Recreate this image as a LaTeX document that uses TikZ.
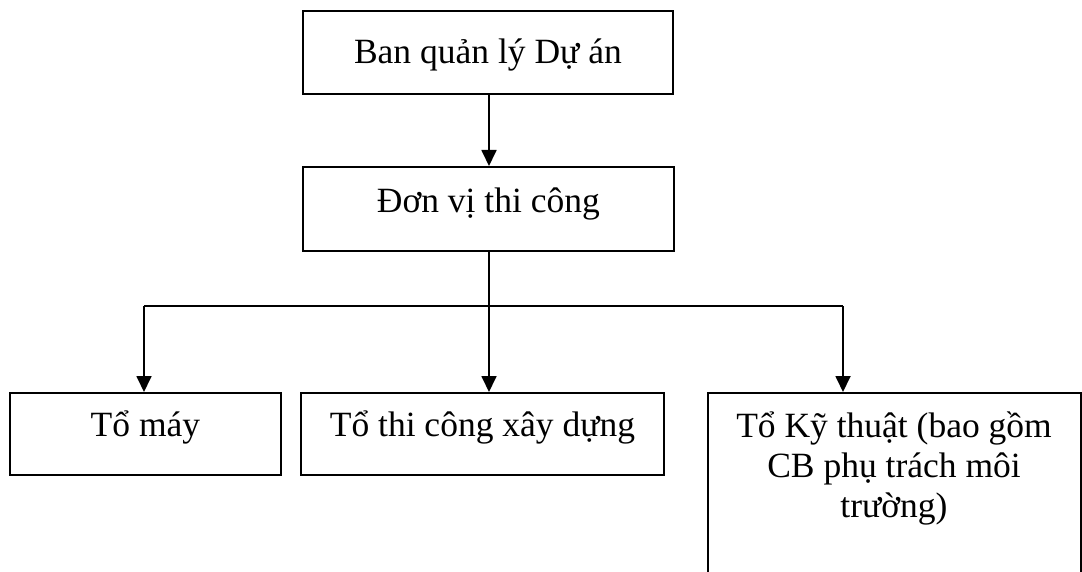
\documentclass[tikz,border=0pt]{standalone}
\usepackage{fontspec}
\setmainfont{Liberation Serif}
\usetikzlibrary{arrows.meta,calc}
\tikzset{
  box/.style={draw=black, line width=1.8pt, rectangle, inner sep=0pt, anchor=north west, align=center},
  conn/.style={draw=black, line width=1.8pt},
  arr/.style={conn, -{Triangle[width=15pt,length=16pt]}},
  txt/.style={inner sep=0pt, anchor=base, align=center}
}
\begin{document}
\begin{tikzpicture}[x=1pt,y=-1pt,font=\fontsize{35.5}{40}\selectfont]
\useasboundingbox (0,0) rectangle (1082,572);
\clip (0,0) rectangle (1082,572);
% boxes
\node[box, minimum width=370pt, minimum height=83pt, text height=53pt, text depth=30pt] (a) at (302,10) {Ban quản lý Dự án};
\node[box, minimum width=371pt, minimum height=84pt, text height=46pt, text depth=38pt] (b) at (302,166) {Đơn vị thi công};
\node[box, minimum width=271pt, minimum height=82pt, text height=44pt, text depth=38pt] (c1) at (9,392) {Tổ máy};
\node[box, minimum width=363pt, minimum height=82pt, text height=44pt, text depth=38pt] (c2) at (300,392) {Tổ thi công xây dựng};
\node[box, minimum width=373pt, minimum height=240pt] (c3) at (707,392) {};
\node[txt] (t3) at (894,517) {Tổ Kỹ thuật (bao gồm\\CB phụ trách môi\\trường)};
% junctions
\coordinate (j1) at (144,306);
\coordinate (j2) at (489,306);
\coordinate (j3) at (843,306);
% connectors
\draw[arr] (a.south -| j2) -- (b.north -| j2);
\draw[conn] (b.south -| j2) -- (j2);
\draw[conn] (j1) -- (j3);
\draw[arr] (j1) -- (c1.north -| j1);
\draw[arr] (j2) -- (c2.north -| j2);
\draw[arr] (j3) -- (c3.north -| j3);
\end{tikzpicture}
\end{document}
